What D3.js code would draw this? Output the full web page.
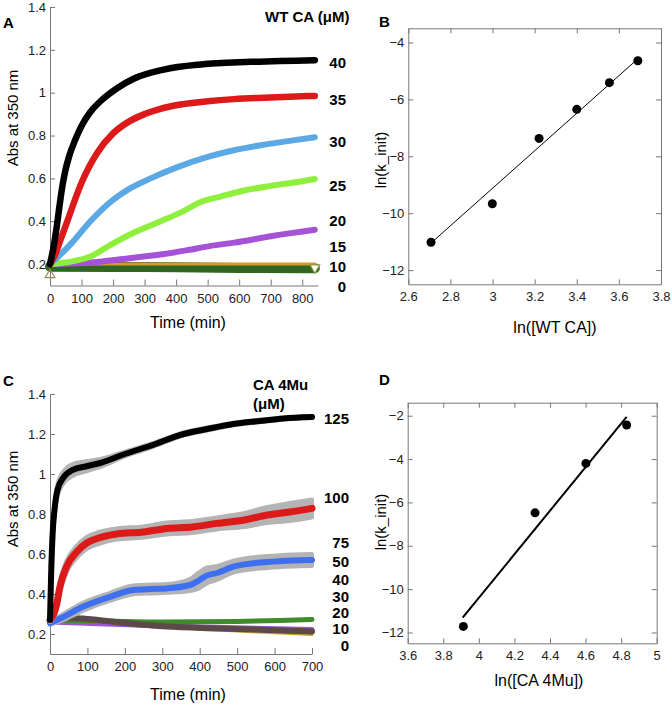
<!DOCTYPE html>
<html><head><meta charset="utf-8">
<script src="https://cdn.jsdelivr.net/npm/d3@7"></script>
<style>body{margin:0;background:#fff} text{font-family:"Liberation Sans",Arial,sans-serif}</style>
</head><body>
<svg id="c" width="672" height="708"></svg>
<script>
// ---------- DATA ----------
// Panel A: WT CA kinetics [time(min), Abs]
const a40=[[0,0.2],[10,0.27],[20,0.36],[30,0.47],[40,0.57],[50,0.645],[60,0.7],[80,0.78],[100,0.845],[128,0.91],[160,0.96],[214,1.022],[265,1.065],[361,1.108],[478,1.132],[637,1.144],[840,1.152]];
const a35=[[0,0.2],[15,0.24],[30,0.3],[50,0.38],[100,0.58],[150,0.72],[200,0.81],[250,0.865],[300,0.9],[350,0.925],[414,0.945],[500,0.96],[584,0.97],[700,0.978],[840,0.985]];
const a30=[[0,0.2],[30,0.24],[70,0.3],[128,0.4],[200,0.5],[250,0.55],[319,0.6],[400,0.65],[500,0.7],[580,0.73],[668,0.755],[760,0.775],[840,0.792]];
const a25=[[0,0.2],[60,0.21],[128,0.235],[192,0.29],[270,0.35],[351,0.4],[420,0.445],[478,0.49],[540,0.515],[605,0.54],[700,0.565],[780,0.582],[840,0.597]];
const a20=[[0,0.2],[150,0.21],[266,0.23],[350,0.245],[436,0.265],[510,0.285],[584,0.3],[700,0.33],[840,0.36]];
const a10=[[0,0.201],[300,0.2],[600,0.2],[840,0.2]];
const a0=[[0,0.188],[300,0.186],[600,0.182],[840,0.181]];
const aMarkUp=[[0,0.15]];
const aMarkDown=[[840,0.183]];
const aTimeTicks=[0,100,200,300,400,500,600,700,800];
const absTicks=[0.2,0.4,0.6,0.8,1,1.2,1.4];
const aConcLabels=["40","35","30","25","20","15","10","0"];
const aConcLabelY=[1.14,0.968,0.768,0.563,0.4,0.279,0.186,0.093];

// Panel B: ln(k_init) vs ln([WT CA])
const bX=[2.708,2.999,3.221,3.40,3.555,3.69];
const bY=[-11.02,-9.67,-7.37,-6.35,-5.41,-4.64];
const bFit=[[2.708,-11.05],[3.689,-4.58]];
const bXTicks=[2.6,2.8,3,3.2,3.4,3.6,3.8];
const bYTicks=[-12,-10,-8,-6,-4];

// Panel C: CA 4Mu kinetics [time, Abs, gray band half-width]
const c125=[[0,0.27,0.01],[3,0.5,0.02],[7,0.7,0.03],[12,0.82,0.03],[20,0.92,0.03],[35,0.98,0.03],[60,1.02,0.03],[100,1.04,0.025],[134,1.055,0.02],[200,1.1,0.012],[267,1.14,0.01],[357,1.2,0.008],[420,1.225,0.008],[490,1.25,0.006],[560,1.265,0.006],[624,1.278,0.005],[700,1.285,0.005]];
const c100=[[0,0.27,0.01],[10,0.3,0.02],[18,0.35,0.025],[27,0.44,0.03],[45,0.54,0.03],[71,0.61,0.03],[98,0.655,0.03],[130,0.68,0.03],[178,0.70,0.028],[250,0.71,0.028],[312,0.728,0.03],[380,0.735,0.03],[446,0.753,0.03],[520,0.77,0.035],[580,0.795,0.04],[640,0.81,0.045],[700,0.828,0.045]];
const c50=[[0,0.255,0.01],[30,0.28,0.015],[89,0.337,0.02],[160,0.386,0.02],[223,0.42,0.022],[270,0.425,0.022],[312,0.428,0.022],[374,0.445,0.03],[398,0.468,0.04],[418,0.492,0.04],[446,0.505,0.035],[490,0.537,0.03],[580,0.56,0.03],[650,0.568,0.03],[700,0.57,0.03]];
const c20=[[0,0.27],[150,0.265],[300,0.26],[500,0.263],[700,0.273]];
const c10=[[0,0.26],[300,0.24],[700,0.222]];
const cBrown=[[0,0.26],[30,0.283],[100,0.275],[200,0.255],[312,0.237],[450,0.228],[700,0.213]];
const c0=[[0,0.265],[100,0.255],[300,0.235],[500,0.215],[700,0.197]];
const cTimeTicks=[0,100,200,300,400,500,600,700];
const cConcLabels=["125","100","75","50","40","30","20","10","0"];
const cConcLabelY=[1.275,0.88,0.655,0.56,0.47,0.385,0.305,0.225,0.14];

// Panel D: ln(k_init) vs ln([CA 4Mu])
const dX=[3.913,4.316,4.602,4.831];
const dY=[-11.72,-6.48,-4.2,-2.43];
const dFit=[[3.909,-11.32],[4.831,-2.05]];
const dXTicks=[3.6,3.8,4,4.2,4.4,4.6,4.8,5];
const dYTicks=[-12,-10,-8,-6,-4,-2];

// ---------- DRAW ----------
const svg=d3.select("#c");
const AX="#777";
const fmt=d3.format("~g");

function styleAxis(g){
  g.selectAll("path,line").attr("stroke",AX).attr("stroke-width",1);
  g.selectAll("text").attr("fill","#222").style("font-family",'"Liberation Sans",Arial,sans-serif').style("font-size","13px");
}
function txt(x,y,s,opt={}){
  const t=svg.append("text").attr("x",x).attr("y",y).text(s)
    .attr("font-size",opt.size||16).attr("font-weight",opt.bold?"bold":"normal")
    .attr("text-anchor",opt.anchor||"start").attr("fill","#000");
  if(opt.rot) t.attr("transform",`rotate(-90,${x},${y})`);
  return t;
}

// ----- Panel A -----
const xA=d3.scaleLinear().domain([0,850]).range([50,318]);
const yA=d3.scaleLinear().domain([0.1,1.4]).range([285.5,7]);
svg.append("g").attr("transform","translate(0,285.5)")
  .call(d3.axisBottom(xA).tickValues(aTimeTicks).tickSizeInner(-6).tickSizeOuter(0).tickPadding(8)).call(styleAxis);
svg.append("g").attr("transform","translate(50,0)")
  .call(d3.axisLeft(yA).tickValues(absTicks).tickFormat(fmt).tickSizeInner(-5).tickSizeOuter(0).tickPadding(4)).call(styleAxis);

const lineA=d3.line().x(d=>xA(d[0])).y(d=>yA(d[1])).curve(d3.curveMonotoneX);
const seriesA=[
  {d:a0,c:"#2f6622",w:10},
  {d:a10,c:"#d49a2a",w:3},
  {d:a20,c:"#a552d8",w:6},
  {d:a25,c:"#8ef03c",w:6},
  {d:a30,c:"#5aa8e4",w:6},
  {d:a35,c:"#dd1a1a",w:6.5},
  {d:a40,c:"#000000",w:6.5}
];
seriesA.forEach(s=>svg.append("path").attr("d",lineA(s.d)).attr("fill","none")
  .attr("stroke",s.c).attr("stroke-width",s.w).attr("stroke-linecap","round").attr("stroke-linejoin","round"));
const tri=d3.symbol().type(d3.symbolTriangle).size(40);
aMarkUp.forEach(p=>svg.append("path").attr("d",tri()).attr("transform",`translate(${xA(p[0])},${yA(p[1])})`)
  .attr("fill","none").attr("stroke","#9a8a50").attr("stroke-width",1.2));
aMarkDown.forEach(p=>svg.append("path").attr("d",tri()).attr("transform",`translate(${xA(p[0])},${yA(p[1])}) rotate(180)`)
  .attr("fill","#fff").attr("stroke","#8a9a40").attr("stroke-width",1.2));

txt(3,28,"A",{bold:true,size:15});
txt(265,22,"WT CA (μM)",{bold:true,size:15});
aConcLabels.forEach((l,i)=>txt(346,yA(aConcLabelY[i])+5,l,{bold:true,size:15,anchor:"end"}));
txt(18,118,"Abs at 350 nm",{rot:true,anchor:"middle",size:15});
txt(188,328,"Time (min)",{anchor:"middle",size:16});

// ----- Panel B -----
function boxPanel(x,y,xt,yt){
  const [x0,x1]=x.range(), [y0,y1]=y.range();
  svg.append("g").attr("transform",`translate(0,${y0})`)
    .call(d3.axisBottom(x).tickValues(xt).tickFormat(fmt).tickSizeInner(-5).tickSizeOuter(0).tickPadding(7)).call(styleAxis);
  svg.append("g").attr("transform",`translate(0,${y1})`)
    .call(d3.axisTop(x).tickValues(xt).tickFormat("").tickSizeInner(-5).tickSizeOuter(0)).call(styleAxis);
  svg.append("g").attr("transform",`translate(${x0},0)`)
    .call(d3.axisLeft(y).tickValues(yt).tickFormat(fmt).tickSizeInner(-5).tickSizeOuter(0).tickPadding(4)).call(styleAxis);
  svg.append("g").attr("transform",`translate(${x1},0)`)
    .call(d3.axisRight(y).tickValues(yt).tickFormat("").tickSizeInner(-5).tickSizeOuter(0)).call(styleAxis);
}
const xB=d3.scaleLinear().domain([2.6,3.8]).range([408.3,661]);
const yB=d3.scaleLinear().domain([-12.5,-3.5]).range([284.3,28.3]);
boxPanel(xB,yB,bXTicks,bYTicks);
svg.append("path").attr("d",d3.line().x(d=>xB(d[0])).y(d=>yB(d[1]))(bFit)).attr("stroke","#000").attr("stroke-width",1).attr("fill","none");
bX.forEach((v,i)=>svg.append("circle").attr("cx",xB(v)).attr("cy",yB(bY[i])).attr("r",4.5).attr("fill","#000"));
txt(379,27,"B",{bold:true,size:15});
txt(386,160,"ln(k_init)",{rot:true,anchor:"middle",size:15});
txt(555,333,"ln([WT CA])",{anchor:"middle",size:16});

// ----- Panel C -----
const xC=d3.scaleLinear().domain([0,700]).range([50,312]);
const yC=d3.scaleLinear().domain([0.1,1.4]).range([654,394]);
svg.append("g").attr("transform","translate(0,654)")
  .call(d3.axisBottom(xC).tickValues(cTimeTicks).tickSizeInner(-6).tickSizeOuter(0).tickPadding(8)).call(styleAxis);
svg.append("g").attr("transform","translate(50,0)")
  .call(d3.axisLeft(yC).tickValues(absTicks).tickFormat(fmt).tickSizeInner(-5).tickSizeOuter(0).tickPadding(4)).call(styleAxis);
const lineC=d3.line().x(d=>xC(d[0])).y(d=>yC(d[1])).curve(d3.curveMonotoneX);
const bandC=d3.area().x(d=>xC(d[0])).y0(d=>yC(d[1]-d[2])).y1(d=>yC(d[1]+d[2])).curve(d3.curveMonotoneX);
const seriesC=[
  {d:c0,c:"#c9a232",w:3},
  {d:c10,c:"#9b55d0",w:5},
  {d:c20,c:"#3f8a2a",w:5},
  {d:cBrown,c:"#5b4a48",w:6},
  {d:c50,c:"#3d6ff0",w:6,band:true},
  {d:c100,c:"#dd1a1a",w:7,band:true},
  {d:c125,c:"#000000",w:6,band:true}
];
seriesC.forEach(s=>{
  if(s.band) svg.append("path").attr("d",bandC(s.d)).attr("fill","#b4b4b4").attr("stroke","#b4b4b4").attr("stroke-width",4).attr("stroke-linejoin","round");
  svg.append("path").attr("d",lineC(s.d)).attr("fill","none")
    .attr("stroke",s.c).attr("stroke-width",s.w).attr("stroke-linecap","round").attr("stroke-linejoin","round");
});
txt(3,386,"C",{bold:true,size:15});
txt(253,390,"CA 4Mu",{bold:true,size:15});
txt(253,409,"(μM)",{bold:true,size:15});
cConcLabels.forEach((l,i)=>txt(349,yC(cConcLabelY[i])+5,l,{bold:true,size:15,anchor:"end"}));
txt(18,499,"Abs at 350 nm",{rot:true,anchor:"middle",size:15});
txt(188,700,"Time (min)",{anchor:"middle",size:16});

// ----- Panel D -----
const xD=d3.scaleLinear().domain([3.6,5.0]).range([407.7,656.7]);
const yD=d3.scaleLinear().domain([-12.5,-1.4]).range([643.3,402.7]);
boxPanel(xD,yD,dXTicks,dYTicks);
svg.append("path").attr("d",d3.line().x(d=>xD(d[0])).y(d=>yD(d[1]))(dFit)).attr("stroke","#000").attr("stroke-width",2).attr("fill","none");
dX.forEach((v,i)=>svg.append("circle").attr("cx",xD(v)).attr("cy",yD(dY[i])).attr("r",4.5).attr("fill","#000"));
txt(379,385,"D",{bold:true,size:15});
txt(386,522,"ln(k_init)",{rot:true,anchor:"middle",size:15});
txt(539,686,"ln([CA 4Mu])",{anchor:"middle",size:16});
</script>
</body></html>
